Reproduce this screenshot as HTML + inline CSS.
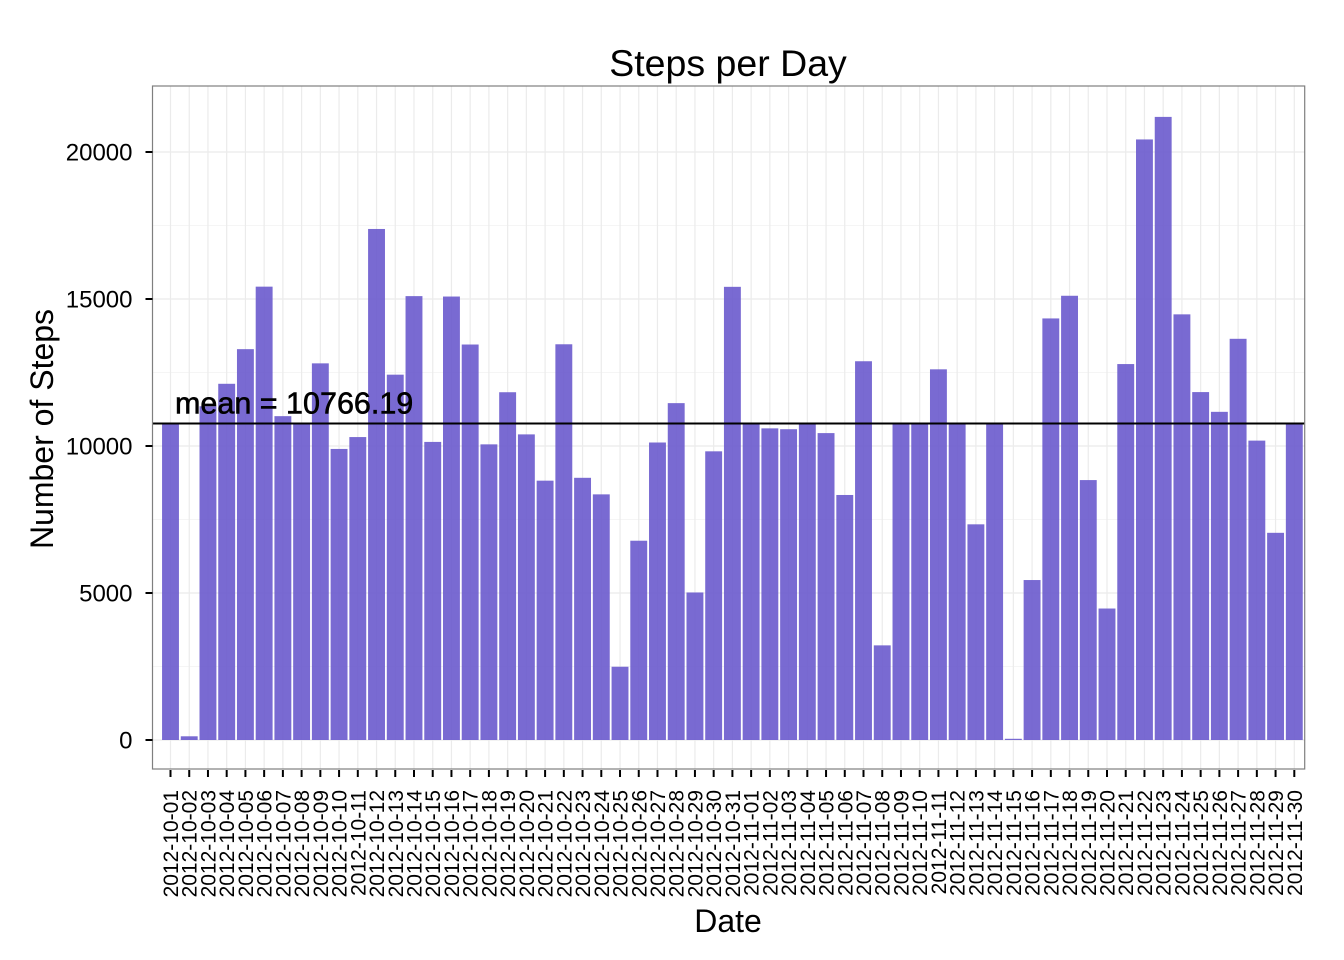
<!DOCTYPE html>
<html><head><meta charset="utf-8"><style>body{margin:0;background:#fff}svg{display:block;font-family:"Liberation Sans",Arial,sans-serif}</style></head>
<body>
<svg id="chart" width="1344" height="960" xmlns="http://www.w3.org/2000/svg">
<rect width="1344" height="960" fill="#fff"/>
<g id="grid"></g>
<g id="bars"></g>
<g id="axes"></g>
<text x="728" y="76" font-size="37.5" text-anchor="middle">Steps per Day</text>
<text x="728" y="932" font-size="32" text-anchor="middle">Date</text>
<text transform="translate(53,429) rotate(-90)" font-size="32" text-anchor="middle">Number of Steps</text>
</svg>
<script>
const dates=["2012-10-01","2012-10-02","2012-10-03","2012-10-04","2012-10-05","2012-10-06","2012-10-07","2012-10-08","2012-10-09","2012-10-10","2012-10-11","2012-10-12","2012-10-13","2012-10-14","2012-10-15","2012-10-16","2012-10-17","2012-10-18","2012-10-19","2012-10-20","2012-10-21","2012-10-22","2012-10-23","2012-10-24","2012-10-25","2012-10-26","2012-10-27","2012-10-28","2012-10-29","2012-10-30","2012-10-31","2012-11-01","2012-11-02","2012-11-03","2012-11-04","2012-11-05","2012-11-06","2012-11-07","2012-11-08","2012-11-09","2012-11-10","2012-11-11","2012-11-12","2012-11-13","2012-11-14","2012-11-15","2012-11-16","2012-11-17","2012-11-18","2012-11-19","2012-11-20","2012-11-21","2012-11-22","2012-11-23","2012-11-24","2012-11-25","2012-11-26","2012-11-27","2012-11-28","2012-11-29","2012-11-30"];
const steps=[10766.19,126,11352,12116,13294,15420,11015,10766.19,12811,9900,10304,17382,12426,15098,10139,15084,13452,10056,11829,10395,8821,13460,8918,8355,2492,6778,10119,11458,5018,9819,15414,10766.19,10600,10571,10766.19,10439,8334,12883,3219,10766.19,10766.19,12608,10765,7336,10766.19,41,5441,14339,15110,8841,4472,12787,20427,21194,14478,11834,11162,13646,10183,7047,10766.19];
const yTicks=[0,5000,10000,15000,20000];
const meanValue=10766.19;
const NS="http://www.w3.org/2000/svg";
const L=152.5,R=1304.7,T=86,B=769;
const y=v=>740-v*0.0294;
const x=i=>170.5+i*18.73;
function mk(tag,attrs,parent){const e=document.createElementNS(NS,tag);for(const k in attrs)e.setAttribute(k,attrs[k]);document.getElementById(parent).appendChild(e);return e;}
for(let v=-2500;v<=22500;v+=2500){const yy=y(v);if(yy<T||yy>B)continue;
 const g=mk('line',{x1:L,x2:R,y1:yy,y2:yy,stroke:'#ebebeb','stroke-width':yTicks.includes(v)?1.2:0.6},'grid');
 }
dates.forEach((d,i)=>{const g=mk('line',{x1:x(i),x2:x(i),y1:T,y2:B,stroke:'#ebebeb','stroke-width':1.2},'grid');
 });
steps.forEach((v,i)=>{const r=mk('rect',{x:x(i)-8.45,width:16.9,y:y(v),height:y(0)-y(v),fill:'#6a5acd','fill-opacity':0.9},'bars');
 });
const ml=mk('line',{x1:L,x2:R,y1:y(meanValue),y2:y(meanValue),stroke:'#000','stroke-width':2},'bars');

const mt=mk('text',{x:175,y:y(meanValue)-10,'font-size':30.5,stroke:'#000','stroke-width':0.6},'bars');mt.textContent='mean = '+meanValue.toFixed(2);

const pb=mk('rect',{x:L,y:T,width:R-L,height:B-T,fill:'none',stroke:'#7f7f7f','stroke-width':1.2},'axes');

yTicks.forEach(v=>{const t=mk('line',{x1:L-7,x2:L,y1:y(v),y2:y(v),stroke:'#000','stroke-width':2},'axes');
 
 const tx=mk('text',{x:L-20,y:y(v)+8.5,'font-size':24,'text-anchor':'end'},'axes');tx.textContent=v;
 });
dates.forEach((d,i)=>{const t=mk('line',{x1:x(i),x2:x(i),y1:B+1,y2:B+8,stroke:'#000','stroke-width':2},'axes');
 
 const tx=mk('text',{transform:`translate(${x(i)+7.5},${B+21}) rotate(-90)`,'font-size':21,'text-anchor':'end'},'axes');tx.textContent=d;
 });
</script>
</body></html>
